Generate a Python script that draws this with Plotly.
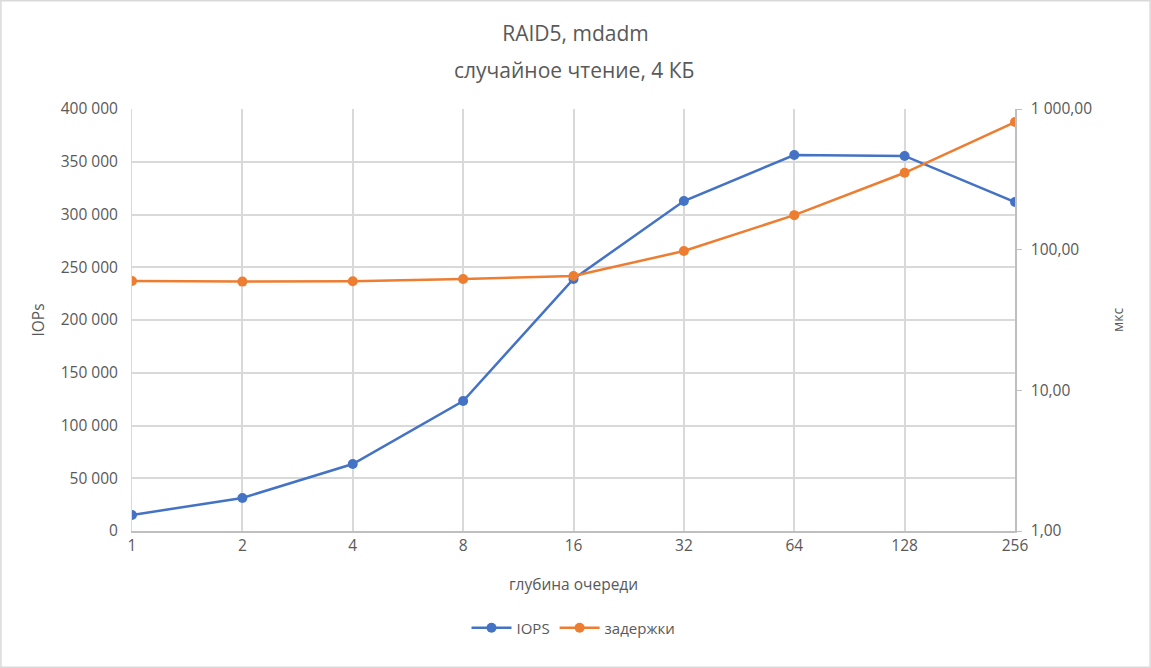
import plotly.graph_objects as go

# queue depth categories
queue_depth = ['1', '2', '4', '8', '16', '32', '64', '128', '256']
# IOPS per queue depth (left axis)
iops = [15200, 31300, 63500, 123200, 238900, 312800, 356400, 355500, 311800]
# latency, microseconds (right axis, log)
latency_us = [59.9, 59.3, 59.6, 61.8, 65.0, 97.8, 176, 352, 808]

left_ticks = [0, 50000, 100000, 150000, 200000, 250000, 300000, 350000, 400000]
right_ticks = [1, 10, 100, 1000]

grey = '#595959'
font = 'Open Sans, Noto Sans, sans-serif'

fig = go.Figure()
fig.add_trace(go.Scatter(x=queue_depth, y=iops, name='IOPS', mode='lines+markers',
                         line=dict(color='#4472C4', width=2.5),
                         marker=dict(size=10, color='#4472C4')))
fig.add_trace(go.Scatter(x=queue_depth, y=latency_us, name='задержки', mode='lines+markers',
                         yaxis='y2', line=dict(color='#ED7D31', width=2.5),
                         marker=dict(size=10, color='#ED7D31')))

W, H = 1151, 668
ml, mr, mt, mb = 132, 136, 109, 137
pw, ph = W - ml - mr, H - mt - mb

fig.update_layout(
    width=W, height=H,
    margin=dict(l=ml, r=mr, t=mt, b=mb),
    paper_bgcolor='white', plot_bgcolor='white',
    separators=', ',
    font=dict(family=font, size=15.5, color=grey),
    title=dict(text='RAID5, mdadm', x=0.5, xanchor='center',
               y=1 - 34 / H, yanchor='middle', font=dict(size=21, color=grey)),
    xaxis=dict(type='category', range=[0, 8], showgrid=True, gridcolor='#d9d9d9', gridwidth=1.5,
               showline=True, linecolor='#bfbfbf', linewidth=1.5, ticks='', zeroline=False,
               title=dict(text='глубина очереди', standoff=24, font=dict(size=15.5))),
    yaxis=dict(range=[0, 400000], tickvals=left_ticks, tickformat=',.0f', showgrid=True,
               gridcolor='#d9d9d9', gridwidth=1.5, showline=True, linecolor='#d9d9d9',
               zeroline=False, ticks='', ticklabelstandoff=10,
               title=dict(text='IOPs', standoff=12, font=dict(size=15.5))),
    yaxis2=dict(type='log', range=[0, 3], overlaying='y', side='right', tickvals=right_ticks,
                tickformat=',.2f', showgrid=False, showline=True, linecolor='#bfbfbf',
                linewidth=1.5, ticks='outside', ticklen=5, tickcolor='#bfbfbf', zeroline=False,
                ticklabelstandoff=6,
                title=dict(text='мкс', standoff=22, font=dict(size=14))),
    legend=dict(orientation='h', x=0.5, xanchor='center', y=-0.23, yanchor='middle',
                font=dict(size=15), itemwidth=40),
    showlegend=True,
)

# second title line
fig.add_annotation(text='случайное чтение, 4 КБ', xref='paper', yref='paper',
                   x=0.5, y=1 + (mt - 70) / ph, xanchor='center', yanchor='middle',
                   showarrow=False, font=dict(size=21, color=grey))

# light frame around the whole chart
fig.add_shape(type='rect', xref='paper', yref='paper',
              x0=-ml / pw + 0.001, x1=1 + mr / pw - 0.001,
              y0=-mb / ph + 0.002, y1=1 + mt / ph - 0.002,
              line=dict(color='#d9d9d9', width=1.5), layer='below')

fig.write_html('out.html', config={'displayModeBar': False},
               post_script="document.body.style.margin='0';")
